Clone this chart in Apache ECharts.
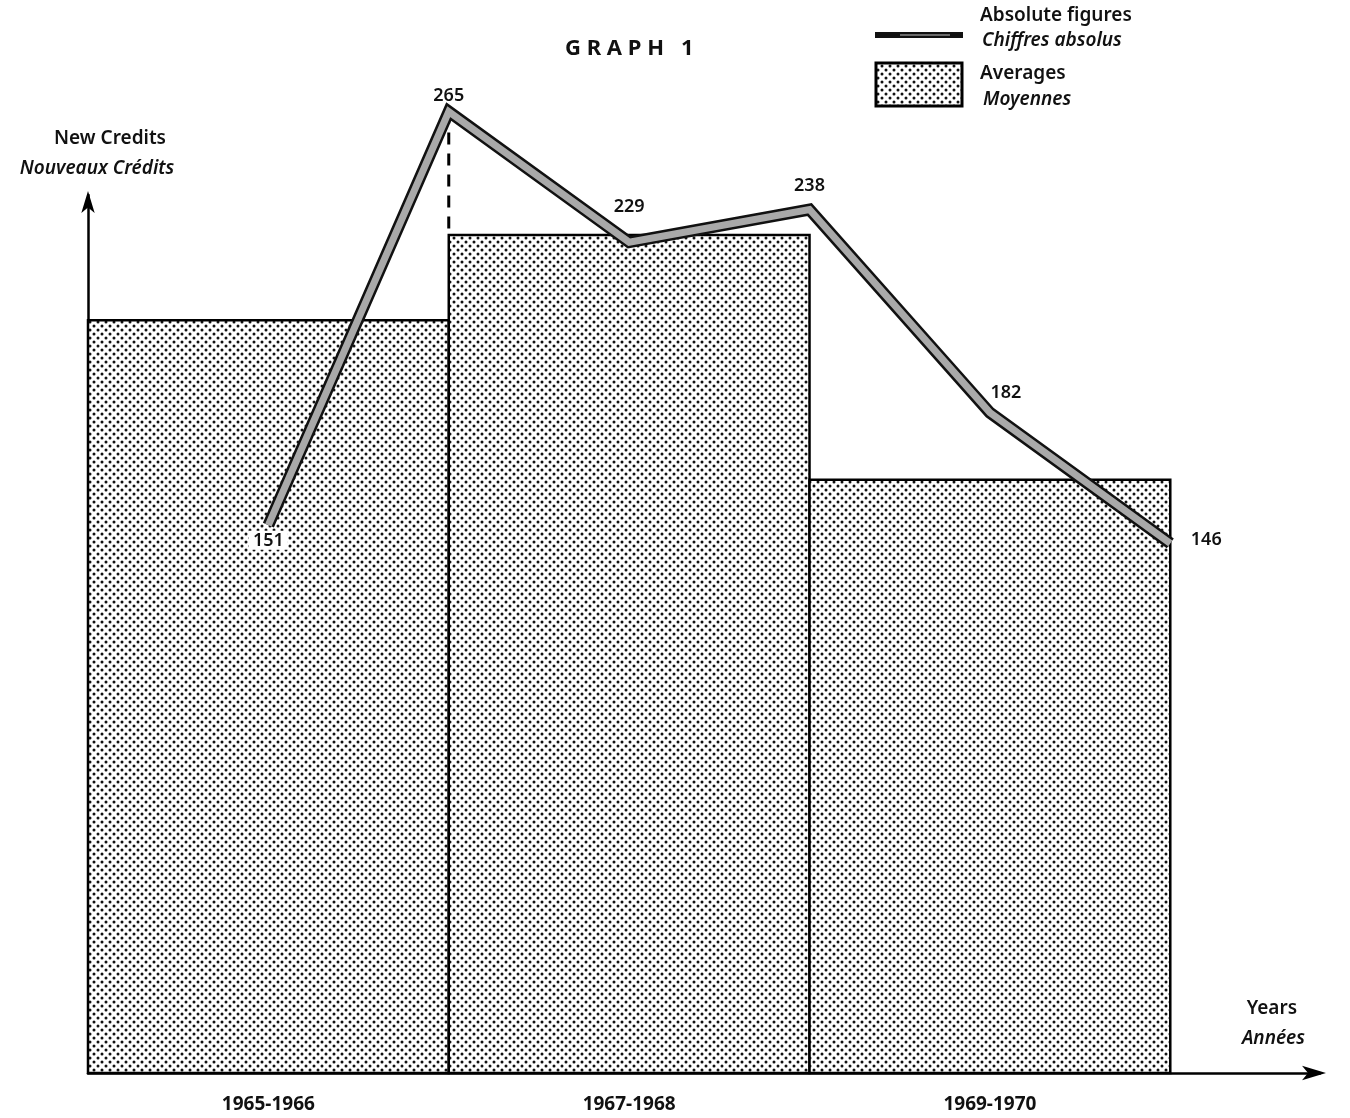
<!DOCTYPE html>
<html><head><meta charset="utf-8">
<script src="https://cdn.jsdelivr.net/npm/echarts@6/dist/echarts.min.js"></script>
<style>html,body{margin:0;padding:0;background:#fff}#c{width:1350px;height:1118px}</style>
</head><body><div id="c"></div>
<script>
// ---- data ----
const periods = ['1965-1966', '1967-1968', '1969-1970'];
const averages = [207.5, 231, 163.5];
const years = [1965, 1966, 1967, 1968, 1969, 1970];
const absolute = [151, 265, 229, 238, 182, 146];
const yTop = 242;

// ---- styles ----
const FONT = 'Noto Sans';
function dotPattern() {
  const c = document.createElement('canvas');
  c.width = 8; c.height = 8;
  const g = c.getContext('2d');
  g.fillStyle = '#fff'; g.fillRect(0, 0, 8, 8);
  g.fillStyle = '#111';
  [[2, 2], [6, 6]].forEach(([x, y]) => { g.beginPath(); g.arc(x, y, 1.5, 0, Math.PI * 2); g.fill(); });
  return c;
}
const pattern = { image: dotPattern(), repeat: 'repeat' };
const labelStyles = [
  { position: 'bottom', distance: 5, backgroundColor: '#fff', padding: [1, 4, 0, 4] },
  { position: 'top', distance: 6 },
  { position: 'top', distance: 26 },
  { position: 'top', distance: 14 },
  { position: 'top', offset: [16, -5] },
  { position: 'right', distance: 20, offset: [0, -3] }
];

const barData = averages.map((v, i) => [2 * i, 2 * i + 2, v, periods[i]]);
const lineData = absolute.map((v, i) => ({ value: [i + 1, v], name: String(years[i]) }));
const lineLabelData = absolute.map((v, i) => ({
  value: [i + 1, v], name: String(years[i]),
  label: Object.assign({ show: true, formatter: String(v), fontFamily: FONT, fontSize: 18, color: '#111', fontWeight: 600 }, labelStyles[i])
}));
// dashed guide from the 1966 peak down to the 1967-1968 average bar
const guideData = [[2, absolute[1], averages[1]]];

const chart = echarts.init(document.getElementById('c'), null, { renderer: 'canvas' });
const txt = (x, y, text, opts) => ({ type: 'text', x, y, z: 10, style: Object.assign({ text, fontFamily: FONT, fontSize: 19, fill: '#111', fontWeight: 600 }, opts || {}) });

chart.setOption({
  animation: false,
  backgroundColor: '#fff',
  title: { text: 'G R A P H   1', left: 560, top: 33, textStyle: { fontFamily: FONT, fontSize: 22, fontWeight: 'bold', color: '#111' } },
  grid: { left: 88, right: 30, top: 195, bottom: 45 },
  xAxis: {
    type: 'value', min: 0, max: 6.83, interval: 1,
    axisLine: { show: true, lineStyle: { color: '#000', width: 2.5 }, symbol: ['none', 'arrow'], symbolSize: [11, 24], symbolOffset: [0, 6] },
    axisTick: { show: false }, splitLine: { show: false },
    axisLabel: {
      margin: 22, fontFamily: FONT, fontSize: 19, fontWeight: 'bold', color: '#111', showMaxLabel: false,
      formatter: v => (Math.round(v) % 2 === 1 ? periods[(Math.round(v) - 1) / 2] : '')
    }
  },
  yAxis: {
    type: 'value', min: 0, max: yTop,
    axisLine: { show: true, lineStyle: { color: '#000', width: 2.5 }, symbol: ['none', 'arrow'], symbolSize: [10, 22], symbolOffset: [0, 4] },
    axisTick: { show: false }, splitLine: { show: false }, axisLabel: { show: false }
  },
  series: [
    {
      type: 'custom', name: 'Averages', z: 1,
      data: barData,
      encode: { x: [0, 1], y: 2 },
      clip: false,
      renderItem: (params, api) => {
        const p0 = api.coord([api.value(0), api.value(2)]);
        const p1 = api.coord([api.value(1), 0]);
        return { type: 'rect', shape: { x: p0[0], y: p0[1], width: p1[0] - p0[0], height: p1[1] - p0[1] },
          style: { fill: pattern, stroke: '#000', lineWidth: 2.5 } };
      }
    },
    {
      type: 'custom', name: 'guide', z: 2, silent: true,
      data: guideData,
      encode: { x: 0, y: [1, 2] },
      clip: false,
      renderItem: (params, api) => {
        const a = api.coord([api.value(0), api.value(1)]);
        const b = api.coord([api.value(0), api.value(2)]);
        return { type: 'line', shape: { x1: a[0], y1: a[1], x2: b[0], y2: b[1] },
          style: { stroke: '#000', lineWidth: 3, lineDash: [12, 9] } };
      }
    },
    {
      type: 'line', name: 'Absolute figures (outline)', z: 3, clip: false,
      data: lineData, symbol: 'none',
      lineStyle: { color: '#111', width: 12, join: 'miter' }
    },
    {
      type: 'line', name: 'Absolute figures', z: 4, clip: false,
      data: lineLabelData, symbol: 'circle', symbolSize: 1, showSymbol: true,
      itemStyle: { color: 'rgba(0,0,0,0)' },
      lineStyle: { color: '#a9a9a9', width: 7, join: 'miter' },
      label: { show: true }
    }
  ],
  graphic: [
    { type: 'line', z: 10, shape: { x1: 875, y1: 35, x2: 963, y2: 35 }, style: { stroke: '#111', lineWidth: 6 } },
    { type: 'line', z: 11, shape: { x1: 900, y1: 35, x2: 950, y2: 35 }, style: { stroke: '#888', lineWidth: 1.5 } },
    { type: 'rect', z: 10, shape: { x: 876, y: 63, width: 86, height: 43 }, style: { fill: pattern, stroke: '#000', lineWidth: 3 } },
    txt(980, 6, 'Absolute figures'),
    txt(982, 31, 'Chiffres absolus', { fontStyle: 'italic' }),
    txt(980, 64, 'Averages'),
    txt(983, 90, 'Moyennes', { fontStyle: 'italic' }),
    txt(110, 129, 'New Credits', { align: 'center' }),
    txt(97, 159, 'Nouveaux Crédits', { align: 'center', fontStyle: 'italic' }),
    txt(1297, 999, 'Years', { align: 'right' }),
    txt(1305, 1029, 'Années', { align: 'right', fontStyle: 'italic' })
  ]
});
</script></body></html>
